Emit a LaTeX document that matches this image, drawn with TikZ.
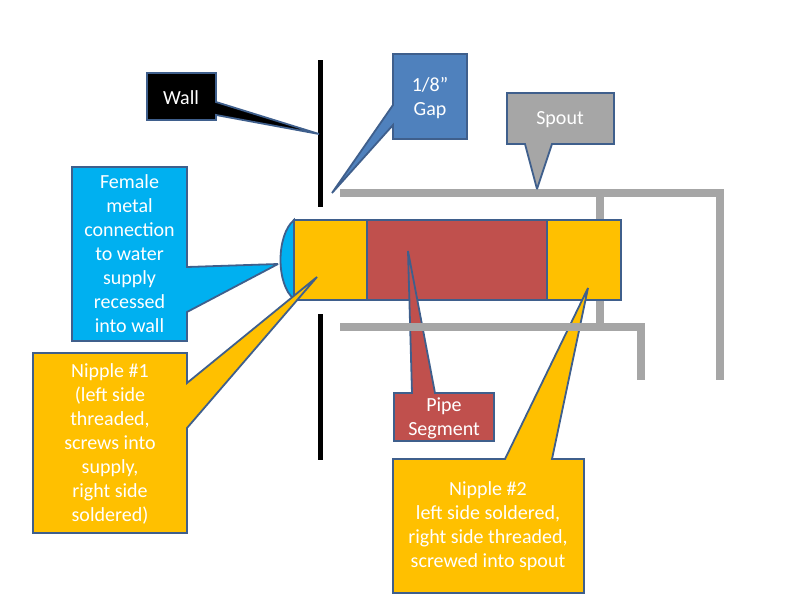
\documentclass[tikz,border=0pt]{standalone}
\usepackage{fontspec}
\setmainfont{Carlito}
\definecolor{orangebox}{HTML}{FFC000}
\definecolor{redbox}{HTML}{C0504D}
\definecolor{bluebox}{HTML}{4F81BD}
\definecolor{cyanbox}{HTML}{00B0F0}
\definecolor{pipegray}{HTML}{A6A6A6}
\definecolor{edgeblue}{HTML}{3F5F8C}
\begin{document}
\begin{tikzpicture}[x=1pt, y=-1pt]

        % Define styles
        \tikzstyle{part} = [draw=edgeblue, line width=1.8pt, line join=miter, miter limit=3]
        \tikzstyle{caption} = [text=white, align=center, font=\fontsize{20}{24}\selectfont]
        \tikzstyle{wallbar} = [line width=5pt, draw=black]
        \tikzstyle{spoutbar} = [line width=8pt, draw=pipegray]

        \useasboundingbox (0,0) rectangle (800,600);

        % Wall
        \draw [wallbar] (320,60) -- (320,207);
        \draw [wallbar] (320,314) -- (320,460);

        % Spout pipes
        \draw [spoutbar] (340,193) -- (720,193) -- (720,380);
        \draw [spoutbar] (600,197) -- (600,323);

        % Pipe
        \draw [part, fill=cyanbox] (294,220) .. controls (276,235) and (276,285) .. (294,299) -- cycle;
        \draw [part, fill=orangebox] (294,220) rectangle (367,300);
        \draw [part, fill=redbox] (367,220) rectangle (547,300);
        \draw [part, fill=orangebox] (547,220) rectangle (621,300);

        % Callouts
        \draw [part, fill=black] (147,73) -- (216,73) -- (216,102) -- (319,134) -- (216,115) -- (216,120) -- (147,120) -- cycle;
        \draw [part, fill=bluebox] (393,54) -- (467,54) -- (467,139) -- (393,139) -- (393,125) -- (332,193) -- (393,105) -- cycle;
        \draw [part, fill=pipegray] (507,93) -- (614,93) -- (614,144) -- (552,144) -- (537,189) -- (525,144) -- (507,144) -- cycle;
        \draw [part, fill=cyanbox] (72,167) -- (187,167) -- (187,267) -- (278,264) -- (187,312) -- (187,341) -- (72,341) -- cycle;
        \draw [part, fill=orangebox] (33,353) -- (187,353) -- (187,383) -- (317,277) -- (187,428) -- (187,533) -- (33,533) -- cycle;
        \draw [part, fill=redbox] (394,393) -- (412,393) -- (408,251) -- (435,393) -- (494,393) -- (494,441) -- (394,441) -- cycle;
        \draw [part, fill=orangebox] (393,459) -- (505,459) -- (588,288) -- (552,459) -- (584,459) -- (584,593) -- (393,593) -- cycle;

        % Lower pipe goes over the callouts
        \draw [spoutbar] (340,327) -- (640.5,327) -- (640.5,380);

        % Place labels
        \node [caption] (walllabel) at (181,98) {Wall};
        \node [caption] (gaplabel) at (430,98) {1/8''\\Gap};
        \node [caption] (spoutlabel) at (560,120) {Spout};
        \node [caption] (femalelabel) at (129.5,254) {Female\\metal\\connection\\to water\\supply\\recessed\\into wall};
        \node [caption] (nipplea) at (110,444) {Nipple \#1\\(left side\\threaded,\\screws into\\supply,\\right side\\soldered)};
        \node [caption] (pipelabel) at (444,418) {Pipe\\Segment};
        \node [caption] (nippleb) at (488,526) {Nipple \#2\\left side soldered,\\right side threaded,\\screwed into spout};

    \end{tikzpicture}
\end{document}
